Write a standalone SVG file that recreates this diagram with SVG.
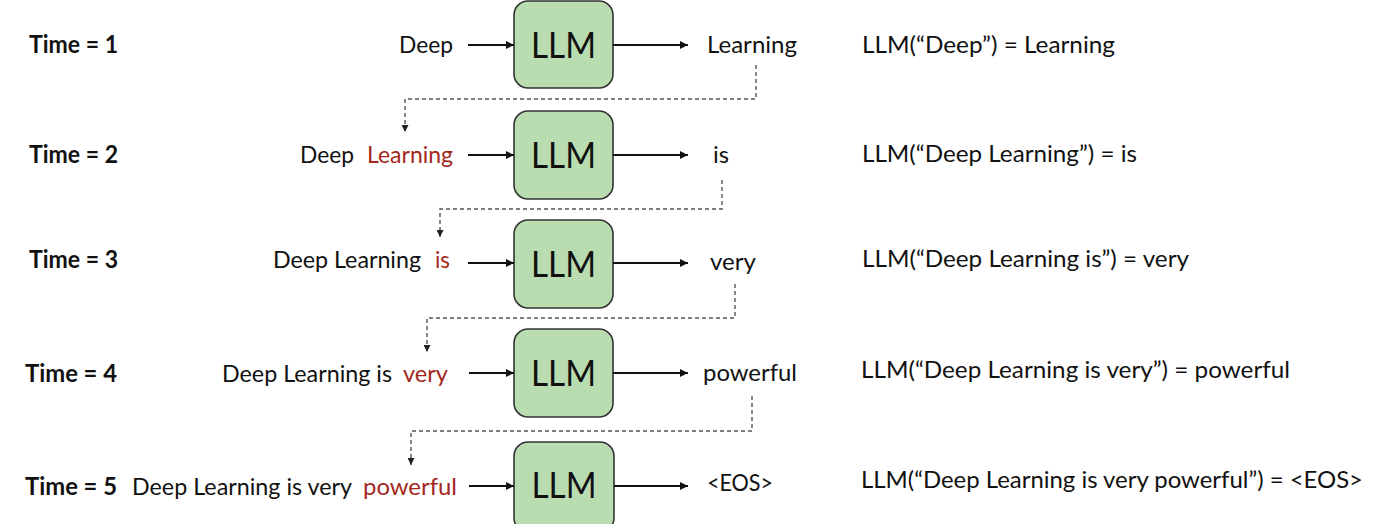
<svg xmlns="http://www.w3.org/2000/svg" width="1392" height="524" viewBox="0 0 1392 524">
  <style>
    text { font-family: "Lato", "Liberation Sans", sans-serif; fill: #111; }
    .t { font-size: 24px; }
    .time { font-size: 24px; font-weight: bold; }
    .red { fill: #a3271c; }
    .llm { font-size: 37px; text-anchor: middle; }
    .box { fill: #b9dcb1; stroke: #333; stroke-width: 1.6; }
    .arr { fill: none; stroke: #111; stroke-width: 2.2; marker-end: url(#ah); }
    .dash { fill: none; stroke: #555; stroke-width: 1.4; stroke-dasharray: 4 3; marker-end: url(#dh); }
  </style>
  <defs>
    <marker id="ah" viewBox="0 0 10 10" refX="10" refY="5" markerWidth="10" markerHeight="8" markerUnits="userSpaceOnUse" orient="auto">
      <path d="M0,0 L10,5 L0,10 z" fill="#111"/>
    </marker>
    <marker id="dh" viewBox="0 0 10 10" refX="10" refY="5" markerWidth="8" markerHeight="7" markerUnits="userSpaceOnUse" orient="auto">
      <path d="M0,0 L10,5 L0,10 z" fill="#222"/>
    </marker>
  </defs>
  <rect width="1392" height="524" fill="#ffffff"/>

  <g id="labels-time">
    <text class="time" x="29" y="53" textLength="89" lengthAdjust="spacingAndGlyphs">Time = 1</text>
    <text class="time" x="29" y="163" textLength="89" lengthAdjust="spacingAndGlyphs">Time = 2</text>
    <text class="time" x="29" y="268" textLength="89" lengthAdjust="spacingAndGlyphs">Time = 3</text>
    <text class="time" x="25" y="382" textLength="92" lengthAdjust="spacingAndGlyphs">Time = 4</text>
    <text class="time" x="25" y="495" textLength="92" lengthAdjust="spacingAndGlyphs">Time = 5</text>
  </g>

  <g id="inputs">
    <text class="t" x="399" y="53" textLength="54" lengthAdjust="spacingAndGlyphs">Deep</text>
    <text class="t" x="300" y="163" textLength="54" lengthAdjust="spacingAndGlyphs">Deep</text>
    <text class="t red" x="367" y="163" textLength="86" lengthAdjust="spacingAndGlyphs">Learning</text>
    <text class="t" x="273" y="268" textLength="148" lengthAdjust="spacingAndGlyphs">Deep Learning</text>
    <text class="t red" x="435" y="268" textLength="15" lengthAdjust="spacingAndGlyphs">is</text>
    <text class="t" x="222" y="382" textLength="170" lengthAdjust="spacingAndGlyphs">Deep Learning is</text>
    <text class="t red" x="403" y="382" textLength="45" lengthAdjust="spacingAndGlyphs">very</text>
    <text class="t" x="132" y="495" textLength="220" lengthAdjust="spacingAndGlyphs">Deep Learning is very</text>
    <text class="t red" x="363" y="495" textLength="94" lengthAdjust="spacingAndGlyphs">powerful</text>
  </g>

  <g id="llm1"><rect class="box" x="514" y="1" width="99" height="87" rx="14"/><text class="llm" x="563.5" y="58" textLength="65" lengthAdjust="spacingAndGlyphs">LLM</text></g>
  <g id="llm2"><rect class="box" x="514" y="111" width="99" height="88" rx="14"/><text class="llm" x="563.5" y="168" textLength="65" lengthAdjust="spacingAndGlyphs">LLM</text></g>
  <g id="llm3"><rect class="box" x="514" y="220" width="99" height="88" rx="14"/><text class="llm" x="563.5" y="277" textLength="65" lengthAdjust="spacingAndGlyphs">LLM</text></g>
  <g id="llm4"><rect class="box" x="514" y="329" width="99" height="88" rx="14"/><text class="llm" x="563.5" y="386" textLength="65" lengthAdjust="spacingAndGlyphs">LLM</text></g>
  <g id="llm5"><rect class="box" x="514" y="442" width="100" height="90" rx="14"/><text class="llm" x="564" y="498" textLength="65" lengthAdjust="spacingAndGlyphs">LLM</text></g>

  <g id="outputs">
    <text class="t" x="707" y="53" textLength="90" lengthAdjust="spacingAndGlyphs">Learning</text>
    <text class="t" x="713" y="163" textLength="16" lengthAdjust="spacingAndGlyphs">is</text>
    <text class="t" x="710" y="270" textLength="46" lengthAdjust="spacingAndGlyphs">very</text>
    <text class="t" x="703" y="381" textLength="94" lengthAdjust="spacingAndGlyphs">powerful</text>
    <text class="t" x="707" y="491" textLength="66" lengthAdjust="spacingAndGlyphs">&lt;EOS&gt;</text>
  </g>

  <g id="formulas">
    <text class="t" x="862" y="53" textLength="253" lengthAdjust="spacingAndGlyphs">LLM(“Deep”) = Learning</text>
    <text class="t" x="862" y="162" textLength="275" lengthAdjust="spacingAndGlyphs">LLM(“Deep Learning”) = is</text>
    <text class="t" x="862" y="267" textLength="327" lengthAdjust="spacingAndGlyphs">LLM(“Deep Learning is”) = very</text>
    <text class="t" x="861" y="378" textLength="429" lengthAdjust="spacingAndGlyphs">LLM(“Deep Learning is very”) = powerful</text>
    <text class="t" x="861" y="488" textLength="502" lengthAdjust="spacingAndGlyphs">LLM(“Deep Learning is very powerful”) = &lt;EOS&gt;</text>
  </g>

  <g id="connectors">
    <line class="arr" x1="468" y1="45" x2="514" y2="45"/>
    <line class="arr" x1="613" y1="45" x2="688" y2="45"/>
    <line class="arr" x1="468" y1="155" x2="514" y2="155"/>
    <line class="arr" x1="613" y1="155" x2="688" y2="155"/>
    <line class="arr" x1="468" y1="263" x2="514" y2="263"/>
    <line class="arr" x1="613" y1="263" x2="688" y2="263"/>
    <line class="arr" x1="469" y1="373" x2="514" y2="373"/>
    <line class="arr" x1="613" y1="373" x2="688" y2="373"/>
    <line class="arr" x1="469" y1="486" x2="514" y2="486"/>
    <line class="arr" x1="614" y1="486" x2="688" y2="486"/>
    <path class="dash" d="M756,65 V99 H405 V132"/>
    <path class="dash" d="M722,180 V209 H440 V237"/>
    <path class="dash" d="M735,284 V318 H427 V352"/>
    <path class="dash" d="M752,396 V431 H411 V465"/>
  </g>
</svg>
